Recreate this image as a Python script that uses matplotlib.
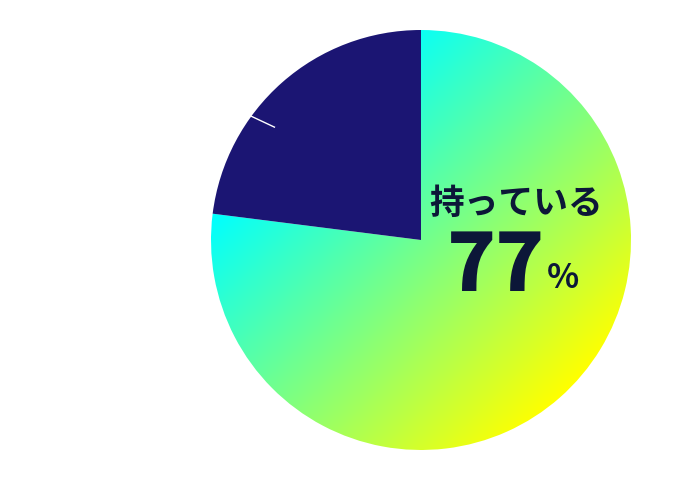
import numpy as np
import matplotlib.pyplot as plt
from matplotlib.colors import LinearSegmentedColormap

plt.rcParams['font.family'] = ['Noto Sans CJK JP', 'DejaVu Sans']

# データ
labels = ['持っている', '持っていない']
values = [77, 23]
main_label = labels[0]
main_pct = values[0]

navy = '#1b1573'
text_col = '#0c1738'

fig = plt.figure(figsize=(7, 4.8), dpi=100)
ax = fig.add_axes([0, 0, 1, 1])

cx, cy, r = 421, 240, 210
wedges, _ = ax.pie(values, startangle=90, counterclock=False,
                   center=(cx, cy), radius=r, colors=['none', navy],
                   wedgeprops=dict(linewidth=0), frame=True)
ax.set_xlim(0, 700)
ax.set_ylim(0, 480)
ax.set_aspect('equal')
ax.axis('off')

# グラデーション（シアン→イエロー、45度方向）
cmap = LinearSegmentedColormap.from_list('cy', ['#00ffff', '#ffff00'])
xs = np.linspace(cx - r, cx + r, 400)
ys = np.linspace(cy - r, cy + r, 400)
X, Y = np.meshgrid(xs, ys)
t = ((X - cx) - (Y - cy)) / 530 + 0.44
t = np.clip(t, 0, 1)
im = ax.imshow(t, cmap=cmap, extent=(cx - r, cx + r, cy - r, cy + r),
               origin='lower', vmin=0, vmax=1, interpolation='bilinear')
im.set_clip_path(wedges[0])

# 白い引き出し線
a1, a2 = np.deg2rad(143.9), np.deg2rad(142.4)
ax.plot([cx + r * np.cos(a1), cx + 185 * np.cos(a2)],
        [cy + r * np.sin(a1), cy + 185 * np.sin(a2)],
        color='white', lw=1)

ax.text(516, 277, main_label, fontsize=25, fontweight='bold',
        color=text_col, ha='center', va='center')
ax.text(496, 213, f'{main_pct}', fontsize=58, fontweight='black',
        color=text_col, ha='center', va='center')
ax.text(563, 201, '%', fontsize=24, fontweight='bold',
        color=text_col, ha='center', va='center')

fig.savefig('out.png', dpi=100)
